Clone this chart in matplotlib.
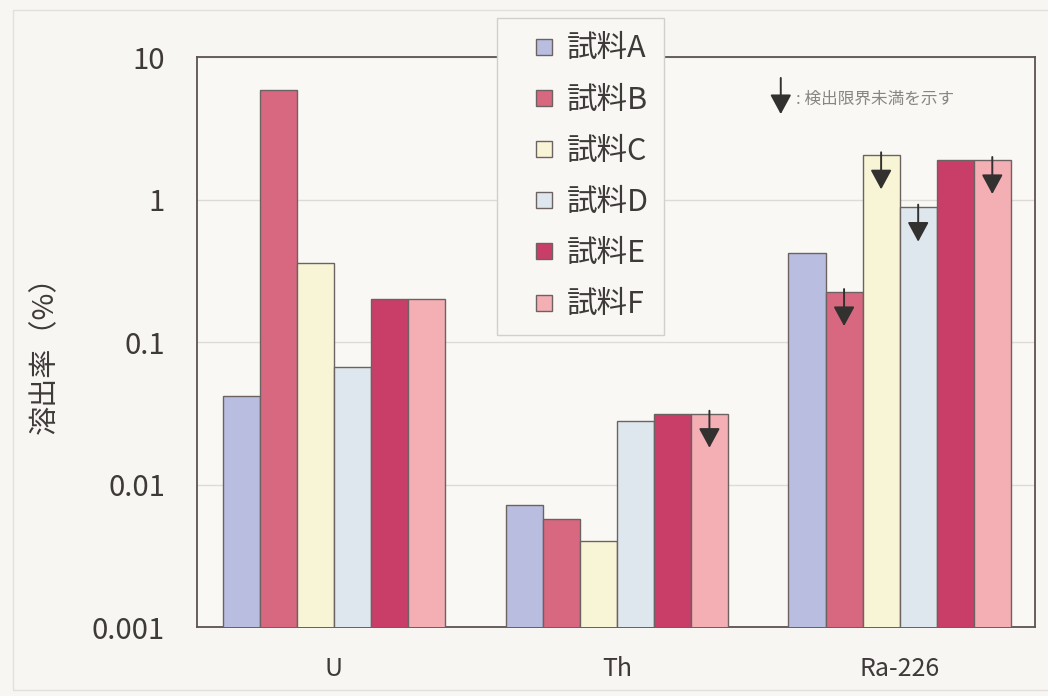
import numpy as np
import matplotlib
matplotlib.use("Agg")
import matplotlib.pyplot as plt
from matplotlib.lines import Line2D
from matplotlib.patches import Rectangle
from matplotlib.ticker import FixedLocator, FixedFormatter, NullLocator

plt.rcParams['font.family'] = ['Noto Sans CJK JP', 'DejaVu Sans']

# --- data ---
elements = ['U', 'Th', 'Ra-226']
samples = ['試料A', '試料B', '試料C', '試料D', '試料E', '試料F']

# dissolution rate (%) per sample, one value per element
rate_a = [0.042, 0.0072, 0.42]
rate_b = [5.9, 0.0057, 0.225]
rate_c = [0.36, 0.0040, 2.05]
rate_d = [0.067, 0.028, 0.88]
rate_e = [0.20, 0.0315, 1.9]
rate_f = [0.20, 0.0315, 1.9]

# True where the value is below the detection limit
below_a = [False, False, False]
below_b = [False, False, True]
below_c = [False, False, True]
below_d = [False, False, True]
below_e = [False, False, False]
below_f = [False, True, True]

y_ticks = [0.001, 0.01, 0.1, 1, 10]
y_tick_labels = ['0.001', '0.01', '0.1', '1', '10']

rates = [rate_a, rate_b, rate_c, rate_d, rate_e, rate_f]
below = [below_a, below_b, below_c, below_d, below_e, below_f]
colors = ['#b9bddf', '#d8687f', '#f8f5d6', '#dde7ed', '#c83e69', '#f4afb4']
edge = '#6d6262'
text_color = '#3f3a3a'
arrow_style = dict(arrowstyle='-|>,head_length=1.2,head_width=0.65',
                   color='#333030', lw=1.4, shrinkA=0, shrinkB=0)

fig = plt.figure(figsize=(10.48, 6.96), dpi=100, facecolor='#f7f6f2')
ax = fig.add_axes([0.188, 0.099, 0.800, 0.819], facecolor='#f9f8f5')

x = np.arange(len(elements))
width = 0.131
for i, (vals, flags) in enumerate(zip(rates, below)):
    pos = x + (i - 2.5) * width
    ax.bar(pos, vals, width, color=colors[i], edgecolor=edge,
           linewidth=1.0, zorder=3)
    for xp, v, f in zip(pos, vals, flags):
        if f:
            ax.annotate('', xy=(xp, v / 10 ** 0.24), xytext=(xp, v * 10 ** 0.02),
                        arrowprops=arrow_style, zorder=4)

ax.set_yscale('log')
ax.set_ylim(0.001, 10)
ax.set_xlim(-0.484, 2.48)
ax.yaxis.set_major_locator(FixedLocator(y_ticks))
ax.yaxis.set_major_formatter(FixedFormatter(y_tick_labels))
ax.yaxis.set_minor_locator(NullLocator())
ax.set_xticks(x)
ax.set_xticklabels(elements)
ax.tick_params(axis='y', length=0, pad=23, labelsize=21, labelcolor=text_color)
ax.tick_params(axis='x', length=0, pad=21, labelsize=18, labelcolor=text_color)
ax.grid(axis='y', color='#dedad8', linewidth=1.0, zorder=0)
for side in ['left', 'right', 'top', 'bottom']:
    ax.spines[side].set_color('#5e5252')
    ax.spines[side].set_linewidth(1.3)

fig.text(0.043, 0.5, '溶出率（%）', rotation=90, va='center', ha='center',
         fontsize=21, color=text_color)

# legend for the samples
handles = [Line2D([], [], linestyle='none', marker='s', markersize=11,
                  markerfacecolor=c, markeredgecolor=edge, markeredgewidth=1.0)
           for c in colors]
leg = fig.legend(handles, samples, loc='upper left', bbox_to_anchor=(0.474, 0.974),
                 bbox_transform=fig.transFigure, fontsize=22, frameon=True,
                 fancybox=False, edgecolor='#d2cfcf', facecolor='#f8f7f4',
                 framealpha=1, handlelength=2.1, handletextpad=-0.3,
                 labelspacing=0.66, borderpad=0.5, borderaxespad=0)
for t in leg.get_texts():
    t.set_color(text_color)

# note for the arrows
ax.annotate('', xy=(0.745, 0.836), xytext=(0.745, 0.888), xycoords='figure fraction',
            textcoords='figure fraction', arrowprops=arrow_style, annotation_clip=False)
fig.text(0.760, 0.857, ': 検出限界未満を示す', fontsize=12, color='#8a8585',
         va='center', ha='left')

# outer page frame
fig.patches.append(Rectangle((0.012, 0.008), 0.99, 0.978, transform=fig.transFigure,
                             fill=False, edgecolor='#e2dfdc', linewidth=1.0))

fig.savefig('out.png', dpi=100, facecolor=fig.get_facecolor())
